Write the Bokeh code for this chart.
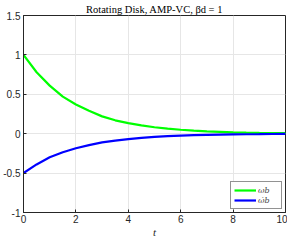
from bokeh.plotting import figure
from bokeh.models import FixedTicker, Legend, LegendItem, Range1d
from bokeh.embed import file_html
from bokeh.resources import INLINE

t = [0, 0.5, 1, 1.5, 2, 2.5, 3, 3.5, 4, 4.5, 5, 5.5, 6, 6.5, 7, 7.5, 8, 8.5, 9, 9.5, 10]
omega_b = [1.0, 0.78, 0.61, 0.47, 0.37, 0.29, 0.22, 0.17, 0.135, 0.105, 0.082, 0.064,
           0.05, 0.039, 0.03, 0.024, 0.018, 0.014, 0.011, 0.009, 0.007]
omega_dot_b = [-0.5, -0.39, -0.30, -0.235, -0.185, -0.145, -0.11, -0.087, -0.068, -0.053,
               -0.041, -0.032, -0.025, -0.019, -0.015, -0.012, -0.009, -0.007, -0.006,
               -0.004, -0.003]
x_ticks = [0, 2, 4, 6, 8, 10]
y_ticks = [-1, -0.5, 0, 0.5, 1, 1.5]
y_tick_labels = ["-1", "-0.5", "0", "0.5", "1", "1.5"]

axis_color = "#262626"
tick_font = "Liberation Sans"
serif = "DejaVu Serif"

p = figure(width=287, height=240, output_backend="svg", toolbar_location=None,
           x_range=Range1d(0, 10), y_range=Range1d(-1, 1.5),
           min_border_left=4, min_border_right=2, min_border_top=2, min_border_bottom=0)

p.title.text = "Rotating Disk, AMP-VC, βd = 1"
p.title.text_font = "Liberation Serif"
p.title.text_font_style = "normal"
p.title.text_font_size = "10.5px"
p.title.align = "center"
p.title.text_color = "black"
p.title.offset = 0
p.title.standoff = 2

p.outline_line_color = axis_color
p.outline_line_width = 1
p.outline_line_alpha = 1

for ax in (p.xaxis[0], p.yaxis[0]):
    ax.axis_line_color = axis_color
    ax.major_tick_line_color = axis_color
    ax.major_tick_in = 3
    ax.major_tick_out = 0
    ax.minor_tick_line_color = None
    ax.major_label_text_font = tick_font
    ax.major_label_text_font_size = "10px"
    ax.major_label_text_color = axis_color
    ax.major_label_standoff = 3

p.xaxis.major_label_standoff = 2
p.xaxis.ticker = FixedTicker(ticks=x_ticks)
p.yaxis.ticker = FixedTicker(ticks=y_ticks)
p.yaxis.major_label_overrides = {v: s for v, s in zip(y_ticks, y_tick_labels)}
p.xaxis.axis_label = "t"
p.xaxis.axis_label_text_font = "Liberation Serif"
p.xaxis.axis_label_text_font_style = "italic"
p.xaxis.axis_label_text_font_size = "11px"
p.xaxis.axis_label_text_color = axis_color
p.xaxis.axis_label_standoff = 0

p.xgrid.ticker = FixedTicker(ticks=x_ticks)
p.ygrid.ticker = FixedTicker(ticks=y_ticks)
p.grid.grid_line_color = "#e6e6e6"
p.grid.grid_line_width = 1

r1 = p.line(t, omega_b, line_color="#00ff00", line_width=2.2)
r2 = p.line(t, omega_dot_b, line_color="#0000ff", line_width=2.2)

legend = Legend(items=[LegendItem(label="ωb", renderers=[r1]),
                       LegendItem(label="ω\u0307b", renderers=[r2])],
                location="bottom_right")
legend.label_text_font = serif
legend.label_text_font_style = "italic"
legend.label_text_font_size = "8px"
legend.label_height = 10
legend.glyph_height = 10
legend.glyph_width = 22
legend.spacing = 0
legend.padding = 3
legend.margin = 3
legend.label_standoff = 2
legend.border_line_color = axis_color
legend.background_fill_alpha = 1
p.add_layout(legend)

open("out.html", "w").write(file_html(p, INLINE))
